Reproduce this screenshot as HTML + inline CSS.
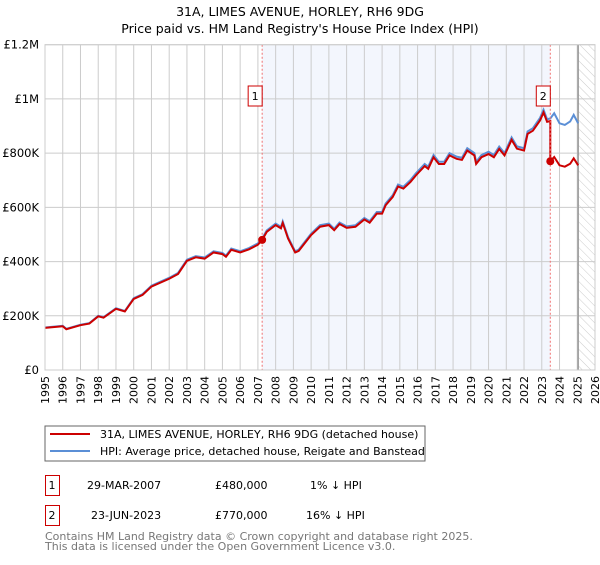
<!DOCTYPE html>
<html><head><meta charset="utf-8"><style>
body{margin:0;background:#fff}
svg text{font-family:"DejaVu Sans","Liberation Sans",sans-serif}
</style></head><body>
<svg id="c" width="600" height="560" viewBox="0 0 600 560">
<defs><pattern id="hatch" width="6" height="6" patternUnits="userSpaceOnUse" patternTransform="rotate(-45)"><line x1="0" y1="0" x2="0" y2="6" stroke="#ccc" stroke-width="1"/></pattern></defs>
<text x="300" y="16" text-anchor="middle" font-size="12.5">31A, LIMES AVENUE, HORLEY, RH6 9DG</text>
<text x="300" y="33" text-anchor="middle" font-size="12.5">Price paid vs. HM Land Registry's House Price Index (HPI)</text>
<g id="plot"></g>
<rect x="45" y="426" width="380" height="35" fill="#fff" stroke="#666"/>
<line x1="50" y1="434" x2="90" y2="434" stroke="#cc0000" stroke-width="2"/>
<text x="100" y="438" font-size="11">31A, LIMES AVENUE, HORLEY, RH6 9DG (detached house)</text>
<line x1="50" y1="451" x2="90" y2="451" stroke="#5b8fd6" stroke-width="2"/>
<text x="100" y="455" font-size="11">HPI: Average price, detached house, Reigate and Banstead</text>
<g>
<rect x="45.5" y="475.5" width="14" height="20" fill="none" stroke="#cc0000"/>
<text x="52" y="489" text-anchor="middle" font-size="11">1</text>
<text x="87" y="489" font-size="11">29-MAR-2007</text>
<text x="215" y="489" font-size="11">£480,000</text>
<text x="310" y="489" font-size="11">1% ↓ HPI</text></g>
<g>
<rect x="45.5" y="505.5" width="14" height="20" fill="none" stroke="#cc0000"/>
<text x="52" y="519" text-anchor="middle" font-size="11">2</text>
<text x="91" y="519" font-size="11">23-JUN-2023</text>
<text x="215" y="519" font-size="11">£770,000</text>
<text x="306" y="519" font-size="11">16% ↓ HPI</text></g>
<text x="45" y="540" font-size="11" fill="#777">Contains HM Land Registry data © Crown copyright and database right 2025.</text>
<text x="45" y="550" font-size="11" fill="#777">This data is licensed under the Open Government Licence v3.0.</text>
</svg>
<script>
const hpiYears=[1995,1996,1996.2,1997,1997.5,1998,1998.3,1999,1999.5,2000,2000.5,2001,2002,2002.5,2003,2003.5,2004,2004.5,2005,2005.2,2005.5,2006,2006.5,2007,2007.24,2007.5,2008,2008.3,2008.4,2008.7,2009.1,2009.3,2010,2010.5,2011,2011.3,2011.6,2012,2012.5,2013,2013.3,2013.7,2014,2014.2,2014.6,2014.9,2015.2,2015.6,2015.9,2016.4,2016.6,2016.9,2017.2,2017.5,2017.8,2018.2,2018.5,2018.8,2019.2,2019.3,2019.6,2020,2020.3,2020.6,2020.9,2021.3,2021.6,2022,2022.2,2022.5,2022.9,2023.1,2023.3,2023.48,2023.7,2024,2024.3,2024.6,2024.8,2025.05];
const hpiValues=[157,163,152,167,173,200,195,228,218,265,280,311,340,358,407,420,415,438,432,422,448,438,450,467,485,515,540,528,548,490,438,444,503,534,540,521,544,530,534,561,549,583,583,614,645,684,676,701,725,760,750,793,768,768,800,787,783,818,800,768,793,805,793,824,800,858,825,818,880,892,930,960,925,928,947,910,904,917,941,910];
const saleYears=[2007.24,2023.48];
const salePrices=[480,770];
const yTicks=[0,200,400,600,800,1000,1200];
const yTickLabels=["£0","£200K","£400K","£600K","£800K","£1M","£1.2M"];
const xTicks=[];for(let y=1995;y<=2026;y++)xTicks.push(y);
const X0=45,X1=595,Y0=370,Y1=44.7,YR0=1995,YR1=2026,VMAX=1200;
const sx=y=>X0+(y-YR0)/(YR1-YR0)*(X1-X0);
const sy=v=>Y0-v/VMAX*(Y0-Y1);
const NS="http://www.w3.org/2000/svg";
const g=document.getElementById('plot');
function mk(t,a,p){const e=document.createElementNS(NS,t);for(const k in a)e.setAttribute(k,a[k]);(p||g).appendChild(e);return e;}
let sh=mk('rect',{x:sx(saleYears[0]),y:Y1,width:sx(saleYears[1])-sx(saleYears[0]),height:Y0-Y1,fill:'#f3f6fd'});


let ht=mk('rect',{x:sx(2025.05),y:Y1,width:X1-sx(2025.05),height:Y0-Y1,fill:'url(#hatch)'});


xTicks.forEach(t=>{const l=mk('line',{x1:sx(t),x2:sx(t),y1:Y1,y2:Y0,stroke:'#ccc'});


const tx=mk('text',{x:0,y:0,'font-size':11,'text-anchor':'end',transform:`translate(${sx(t)+4},${Y0+6}) rotate(-90)`});tx.textContent=t;

});
yTicks.forEach((t,i)=>{const l=mk('line',{x1:X0,x2:X1,y1:sy(t),y2:sy(t),stroke:'#ccc'});


const tx=mk('text',{x:X0-6,y:sy(t)+4,'font-size':11.5,'text-anchor':'end'});tx.textContent=yTickLabels[i];

});
let dv=mk('line',{x1:sx(2025.05),x2:sx(2025.05),y1:Y1,y2:Y0,stroke:'#999','stroke-width':1.5});


function hpiAt(y){for(let i=0;i<hpiYears.length-1;i++){if(y<=hpiYears[i+1]){const f=(y-hpiYears[i])/(hpiYears[i+1]-hpiYears[i]);return hpiValues[i]+f*(hpiValues[i+1]-hpiValues[i]);}}return hpiValues[hpiValues.length-1];}
const pts=[];
hpiYears.forEach((y,i)=>{let k=0;for(let j=0;j<saleYears.length;j++)if(y>=saleYears[j])k=j;
const r=salePrices[k]/hpiAt(saleYears[k]);
if(i>0&&saleYears.includes(y)&&k>0){const r0=salePrices[k-1]/hpiAt(saleYears[k-1]);pts.push([y,hpiValues[i]*r0]);}
pts.push([y,hpiValues[i]*r]);});
let hp=mk('polyline',{points:hpiYears.map((y,i)=>sx(y)+','+sy(hpiValues[i])).join(' '),fill:'none',stroke:'#5b8fd6','stroke-width':2});


let pp=mk('polyline',{points:pts.map(p=>sx(p[0])+','+sy(p[1])).join(' '),fill:'none',stroke:'#cc0000','stroke-width':2});


saleYears.forEach((y,i)=>{
const vl=mk('line',{x1:sx(y),x2:sx(y),y1:Y1,y2:Y0,stroke:'#f07070','stroke-dasharray':'2,2'});


const c=mk('circle',{cx:sx(y),cy:sy(salePrices[i]),r:4,fill:'#cc0000'});


const b=mk('rect',{x:sx(y)-14,y:86,width:14,height:20,fill:'#fff',stroke:'#cc0000'});


const t=mk('text',{x:sx(y)-7,y:100,'font-size':11,'text-anchor':'middle'});t.textContent=i+1;

});
let fr=mk('rect',{x:X0,y:Y1,width:X1-X0,height:Y0-Y1,fill:'none',stroke:'#ccc'});


</script>
</body></html>
